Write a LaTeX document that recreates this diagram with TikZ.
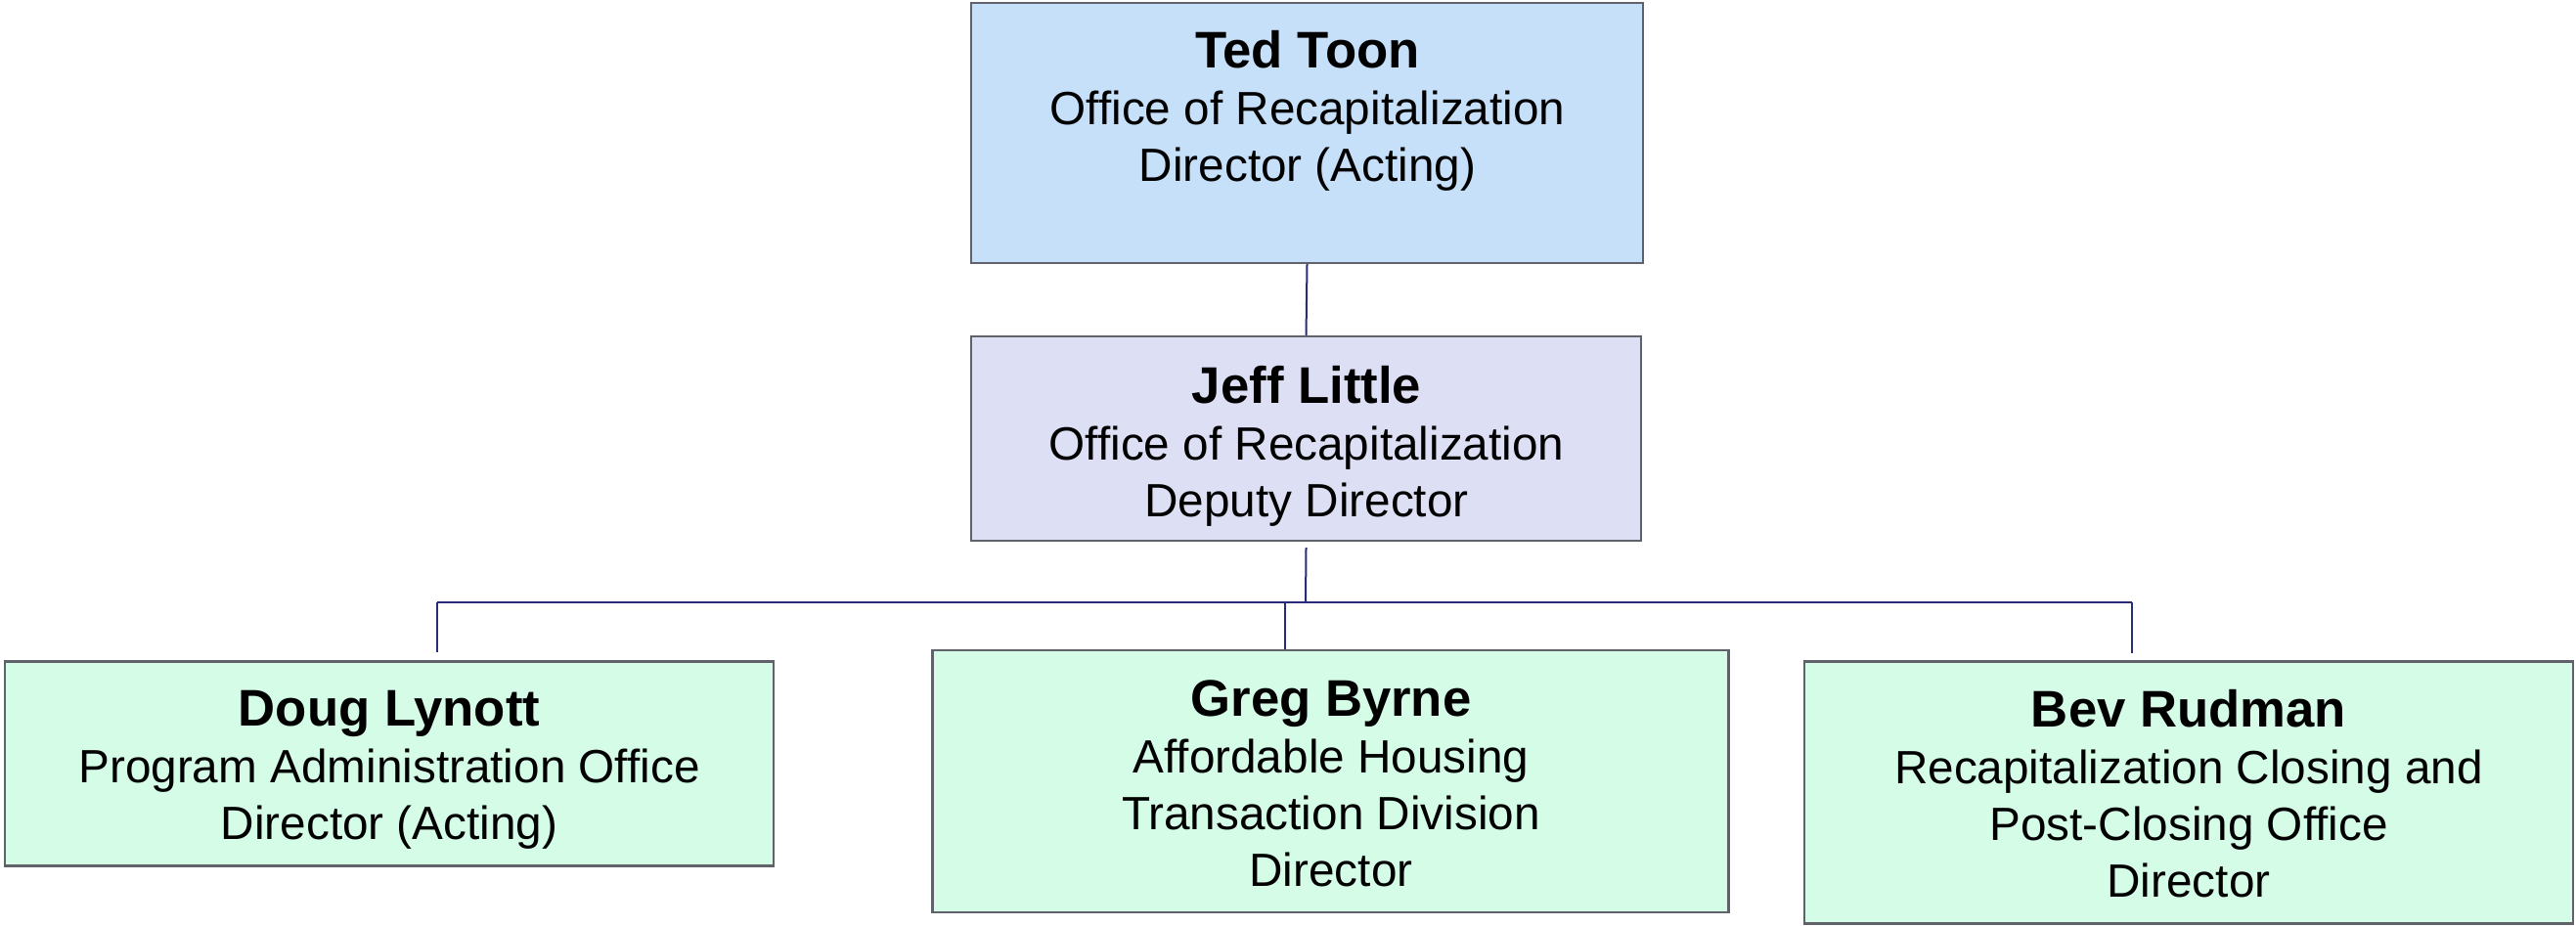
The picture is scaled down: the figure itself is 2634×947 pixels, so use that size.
\documentclass[tikz,border=0pt]{standalone}
\usepackage{fontspec}
\setmainfont{Liberation Sans}
\definecolor{tedc}{RGB}{198,224,250}
\definecolor{jeffc}{RGB}{221,224,245}
\definecolor{grnc}{RGB}{213,252,230}
\definecolor{bordc}{RGB}{95,98,104}
\definecolor{connc}{RGB}{40,45,120}
\newcommand{\nm}[1]{{\fontsize{52.7pt}{58pt}\selectfont\bfseries #1}}
\tikzset{
  orgbox/.style={draw=bordc, line width=2.2pt, inner sep=0pt, rectangle},
  orgtxt/.style={align=center, inner sep=0pt, font=\fontsize{47.7pt}{58pt}\selectfont},
  conn/.style={draw=connc, line width=2pt}
}
\begin{document}
\begin{tikzpicture}[x=1pt,y=-1pt]
\useasboundingbox (0,0) rectangle (2634,947);
% boxes
\node[orgbox, fill=tedc, minimum width=687pt, minimum height=266pt] (ted) at (1336.5,136) {};
\node[orgbox, fill=jeffc, minimum width=685pt, minimum height=209pt] (jeff) at (1335.5,448.5) {};
\node[orgbox, fill=grnc, minimum width=786pt, minimum height=209pt] (doug) at (398,781) {};
\node[orgbox, fill=grnc, minimum width=814pt, minimum height=268pt] (greg) at (1360.5,799) {};
\node[orgbox, fill=grnc, minimum width=786pt, minimum height=268pt] (bev) at (2238,810.5) {};
% texts
\node[orgtxt] (tedt) at (1337,113) {\nm{Ted Toon}\\Office of Recapitalization\\Director (Acting)};
\node[orgtxt] (jefft) at (1336,456) {\nm{Jeff Little}\\Office of Recapitalization\\Deputy Director};
\node[orgtxt] (dougt) at (398,787) {\nm{Doug Lynott}\\Program Administration Office\\Director (Acting)};
\node[orgtxt] (gregt) at (1361,801) {\nm{Greg Byrne}\\Affordable Housing\\Transaction Division\\Director};
\node[orgtxt] (bevt) at (2238,812) {\nm{Bev Rudman}\\Recapitalization Closing and\\Post-Closing Office\\Director};
% connector points
\coordinate (bus) at (1335,616);
\coordinate (dougdrop) at (447,616);
\coordinate (gregdrop) at (1314,616);
\coordinate (bevdrop) at (2180,616);
% connectors
\draw[conn] (ted.south) -- (jeff.north);
\draw[conn] ([yshift=-6pt]jeff.south) -- (bus);
\draw[conn] (dougdrop) -- (bevdrop);
\draw[conn] (dougdrop) -- (dougdrop |- 0,667);
\draw[conn] (gregdrop) -- (gregdrop |- greg.north);
\draw[conn] (bevdrop) -- (bevdrop |- 0,668);
\end{tikzpicture}
\end{document}
